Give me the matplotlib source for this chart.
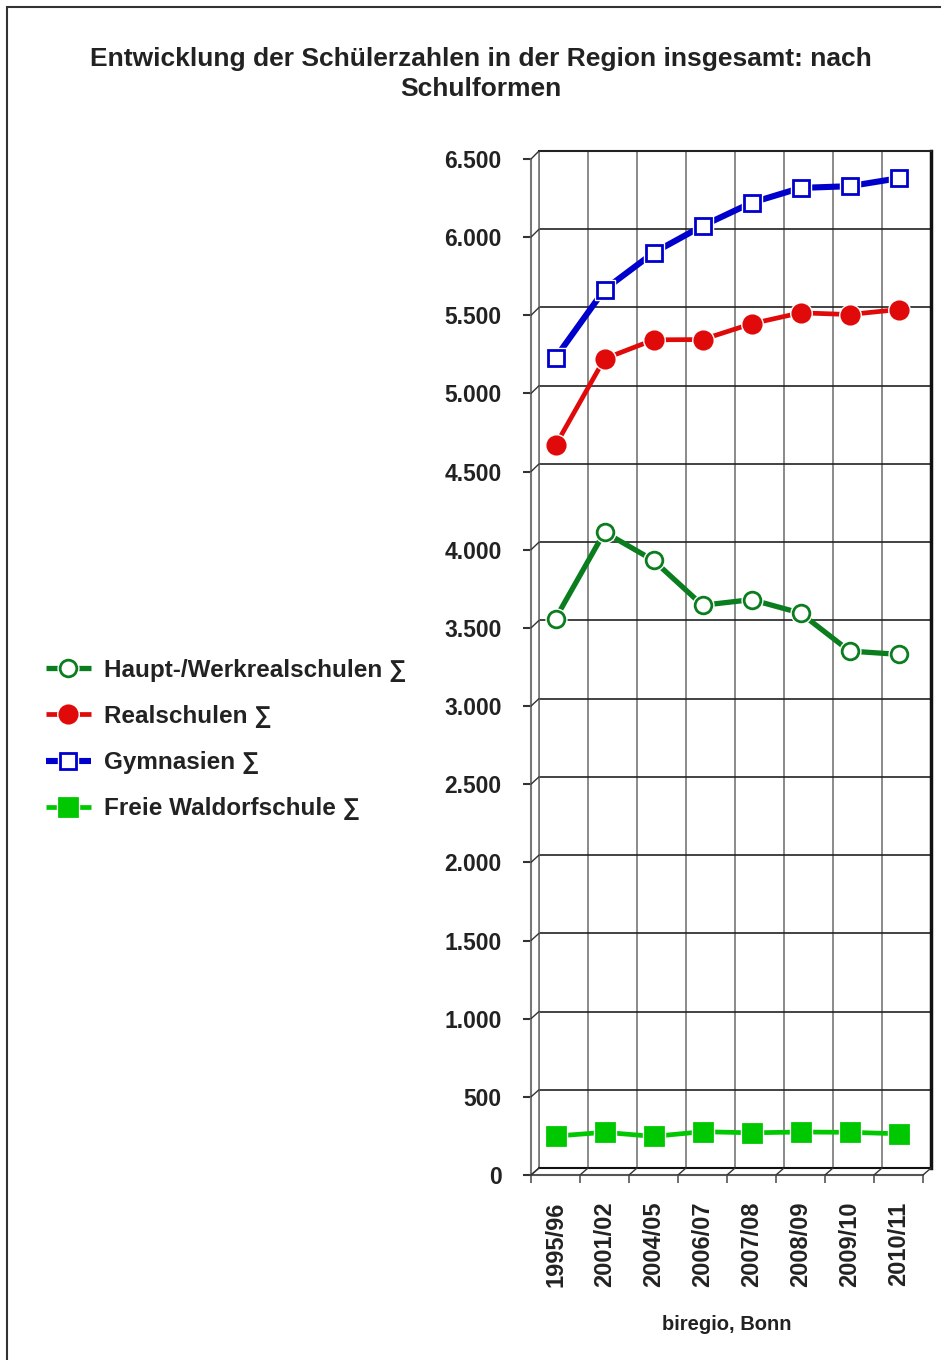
import matplotlib
matplotlib.use("Agg")
import matplotlib.pyplot as plt
from matplotlib.patches import ConnectionPatch, Rectangle
from matplotlib.legend_handler import HandlerTuple
from matplotlib.ticker import FuncFormatter, MultipleLocator

plt.rcParams["font.family"] = ["Liberation Sans", "DejaVu Sans"]
plt.rcParams["font.weight"] = "bold"

YEARS = ["1995/96", "2001/02", "2004/05", "2006/07", "2007/08", "2008/09", "2009/10", "2010/11"]
HAUPT = [3560, 4113, 3932, 3645, 3681, 3595, 3352, 3331]
REAL = [4668, 5222, 5343, 5345, 5446, 5516, 5505, 5537]
GYMN = [5228, 5665, 5900, 6072, 6220, 6315, 6326, 6377]
WALDORF = [249, 273, 247, 277, 270, 275, 273, 264]
LABELS = ["Haupt-/Werkrealschulen \u2211", "Realschulen \u2211", "Gymnasien \u2211", "Freie Waldorfschule \u2211"]

W, H = 941, 1360
fig = plt.figure(figsize=(W / 100, H / 100), dpi=100)

def box(x0, y0, x1, y1):
    # pixel box (top-left origin) -> figure fraction rect
    return [x0 / W, 1 - y1 / H, (x1 - x0) / W, (y1 - y0) / H]

n = len(YEARS)
YMAX = 6500

# back wall (grid) shifted up/right for the pseudo-3D look
back = fig.add_axes(box(539, 151, 931, 1168))
back.set_xlim(0, n)
back.set_ylim(0, YMAX)
back.set_xticks(range(n + 1))
back.yaxis.set_major_locator(MultipleLocator(500))
back.grid(True, axis="y", color="#222222", lw=1.2)
back.grid(True, axis="x", color="#777777", lw=1.2)
back.tick_params(left=False, bottom=False, labelleft=False, labelbottom=False)
for s, c, w in [("top", "#222222", 1.5), ("right", "#111111", 2.5),
                ("left", "#777777", 1.2), ("bottom", "#111111", 1.5)]:
    back.spines[s].set_color(c)
    back.spines[s].set_linewidth(w)

front = fig.add_axes(box(531, 159, 923, 1175))
front.set_xlim(0, n)
front.set_ylim(0, YMAX)
front.patch.set_visible(False)
for s in ["top", "right"]:
    front.spines[s].set_visible(False)
front.spines["left"].set_color("#777777")
front.spines["bottom"].set_color("#555555")
front.spines["left"].set_linewidth(1.5)
front.spines["bottom"].set_linewidth(1.5)
front.yaxis.set_major_locator(MultipleLocator(500))
front.yaxis.set_major_formatter(FuncFormatter(lambda v, p: f"{v:,.0f}".replace(",", ".")))
front.tick_params(axis="y", length=6, width=1.5, color="#333333", pad=15, labelsize=16.5)
front.set_xticks(range(n + 1))
front.set_xticklabels([])
front.tick_params(axis="x", which="major", length=6, width=1.2, color="#555555")
front.set_xticks([i + 0.5 for i in range(n)], minor=True)
front.set_xticklabels(YEARS, minor=True, rotation=90, va="top", ha="center")
front.tick_params(axis="x", which="minor", length=0, pad=19, labelsize=17)
for t in front.get_yticklabels() + front.get_xticklabels(minor=True):
    t.set_fontweight("bold")
    t.set_color("#222222")

# diagonal depth connectors
for v in range(0, YMAX + 1, 500):
    fig.add_artist(ConnectionPatch((0, v), (0, v), coordsA=front.transData, coordsB=back.transData,
                                   color="#333333", lw=1.0))
for k in range(n + 1):
    fig.add_artist(ConnectionPatch((k, 0), (k, 0), coordsA=front.transData, coordsB=back.transData,
                                   color="#333333", lw=1.0))

xs = [i + 0.5 for i in range(n)]
series = [
    (HAUPT, "#0a7d1e", "o", "white", 12, 3.8),
    (REAL, "#e00a0a", "o", "#e00a0a", 12.5, 3.4),
    (GYMN, "#0000cc", "s", "white", 11.5, 4.4),
    (WALDORF, "#00c800", "s", "#00c800", 12.5, 3.4),
]
handles = []
for ys, col, mk, fc, ms, lw in series:
    ln, = front.plot(xs, ys, color=col, lw=lw, zorder=3, solid_capstyle="butt")
    halo, = front.plot(xs, ys, ls="none", marker=mk, ms=ms + 3, mfc="white", mec="white", zorder=4)
    mark, = front.plot(xs, ys, ls="none", marker=mk, ms=ms, mfc=fc, mec=col, mew=2, zorder=5)
    handles.append((ln, halo, mark))

leg = fig.legend(handles, LABELS, loc="upper left", bbox_to_anchor=(24 / W, 1 - 637 / H),
                 frameon=False, fontsize=17.5, handlelength=1.85, handletextpad=0.55,
                 labelspacing=0.95, handler_map={tuple: HandlerTuple(ndivide=1, pad=0)})
for t in leg.get_texts():
    t.set_fontweight("bold")
    t.set_color("#222222")

fig.text(481 / W, 1 - 74 / H, "Entwicklung der Schülerzahlen in der Region insgesamt: nach\nSchulformen",
         ha="center", va="center", fontsize=19, fontweight="bold", color="#222222", linespacing=1.3)
fig.text(727 / W, 1 - 1325 / H, "biregio, Bonn", ha="center", va="center",
         fontsize=14.5, fontweight="bold", color="#222222")

fig.add_artist(Rectangle((7 / W, -0.1), 1.2, 1.1 - 7 / H, transform=fig.transFigure,
                         fill=False, edgecolor="#333333", lw=1.5))

fig.savefig("out.png", dpi=100)
